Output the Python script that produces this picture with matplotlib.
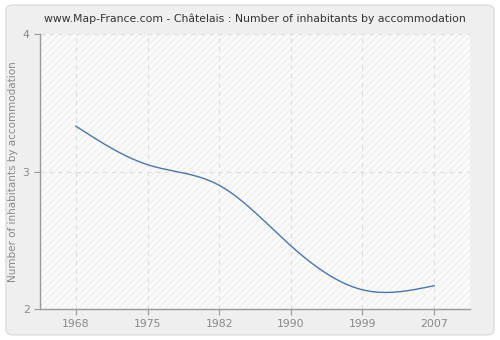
import numpy as np
import matplotlib
matplotlib.use('Agg')
import matplotlib.pyplot as plt
from matplotlib.patches import FancyBboxPatch, Rectangle

years = ['1968', '1975', '1982', '1990', '1999', '2007']
inhabitants = [3.33, 3.05, 2.90, 2.46, 2.14, 2.17]
y_ticks = [2, 3, 4]

TICK = '#888888'
GRID = '#dddddd'


def natural_spline(x, y, n=300):
    # natural cubic spline through the points
    x = np.asarray(x, float)
    y = np.asarray(y, float)
    k = len(x)
    h = np.diff(x)
    A = np.zeros((k, k))
    b = np.zeros(k)
    A[0, 0] = A[-1, -1] = 1
    for i in range(1, k - 1):
        A[i, i - 1] = h[i - 1]
        A[i, i] = 2 * (h[i - 1] + h[i])
        A[i, i + 1] = h[i]
        b[i] = 6 * ((y[i + 1] - y[i]) / h[i] - (y[i] - y[i - 1]) / h[i - 1])
    m = np.linalg.solve(A, b)
    xs = np.linspace(x[0], x[-1], n)
    j = np.clip(np.searchsorted(x, xs) - 1, 0, k - 2)
    t = xs - x[j]
    hj = h[j]
    a = (y[j + 1] - y[j]) / hj - hj * (2 * m[j] + m[j + 1]) / 6
    ys = y[j] + a * t + m[j] / 2 * t ** 2 + (m[j + 1] - m[j]) / (6 * hj) * t ** 3
    return xs, ys


plt.rcParams['hatch.linewidth'] = 0.5
plt.rcParams['hatch.color'] = '#e6e6e6'

fig = plt.figure(figsize=(5, 3.4), dpi=100)
fig.patch.set_facecolor('white')
fig.patches.append(FancyBboxPatch((0.012, 0.015), 0.976, 0.97,
                                  boxstyle='round,pad=0,rounding_size=0.015',
                                  transform=fig.transFigure, facecolor='#efefef',
                                  edgecolor='#dcdcdc', linewidth=1, zorder=-5))

ax = fig.add_axes([0.08, 0.091, 0.86, 0.809])
ax.set_zorder(2)
ax.set_facecolor('#fafafa')
ax.add_patch(Rectangle((0, 0), 1, 1, transform=ax.transAxes, facecolor='none',
                       hatch='/////', edgecolor='#e6e6e6', linewidth=0, zorder=0))

xi = np.arange(len(years))
xs, ys = natural_spline(xi, inhabitants)
ax.plot(xs, ys, color='#4a76a8', linewidth=1, zorder=3)

ax.set_xlim(-0.5, len(years) - 0.5)
ax.set_ylim(2, 4)
ax.set_xticks(xi)
ax.set_xticklabels(years)
ax.set_yticks(y_ticks)

for x in xi:
    ax.axvline(x, color=GRID, linestyle=(0, (4, 4)), linewidth=0.8, zorder=1)
for y in y_ticks[1:]:
    ax.axhline(y, color=GRID, linestyle=(0, (4, 4)), linewidth=0.8, zorder=1)

for s in ['top', 'right']:
    ax.spines[s].set_visible(False)
for s in ['left', 'bottom']:
    ax.spines[s].set_color('#999999')
    ax.spines[s].set_linewidth(1)

ax.tick_params(colors='#999999', labelcolor=TICK, labelsize=7.8, length=4, width=0.8)
ax.set_ylabel('Number of inhabitants by accommodation', color=TICK, fontsize=7.5)
ax.yaxis.set_label_coords(-0.05, 0.5)
ax.set_title('www.Map-France.com - Châtelais : Number of inhabitants by accommodation',
             color='#333333', fontsize=7.8, pad=9)

fig.savefig('out.png', dpi=100)
